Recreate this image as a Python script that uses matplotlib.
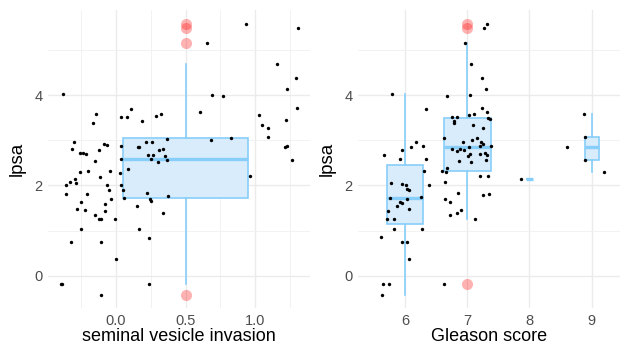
import matplotlib.pyplot as plt
import numpy as np

plt.rcParams['font.family'] = ['Liberation Sans', 'DejaVu Sans']

# left panel: jittered svi (0 / 1) against lpsa
svi0_x = [-0.379, -0.144, -0.168, 0.034, 0.082, 0.106, 0.189, 0.285, 0.321,
          -0.305, -0.317, -0.259, -0.237, -0.218, -0.122, -0.086, -0.067,
          -0.151, -0.257, -0.199, -0.113, -0.046, 0.036, 0.034, 0.029, 0.089,
          0.156, 0.163, 0.216, 0.259, 0.230, 0.264, 0.254, 0.302, 0.307, 0.341,
          0.350, 0.369, 0.367, -0.297, -0.331, -0.357, -0.290, -0.364, -0.254,
          -0.206, -0.062, -0.053, -0.038, -0.077, -0.278, -0.223, -0.149,
          -0.125, -0.108, -0.079, -0.007, 0.038, 0.053, 0.060, 0.149, 0.223,
          0.242, 0.249, 0.338, 0.374, -0.254, -0.324, -0.108, 0.163, 0.235,
          0.000, -0.400, -0.388, 0.237, -0.108]
svi0_y = [4.02, 3.57, 3.39, 3.51, 3.51, 3.68, 3.43, 3.53, 3.59,
          2.97, 2.81, 2.71, 2.71, 2.69, 2.78, 2.92, 2.89,
          2.54, 2.29, 2.32, 2.19, 2.31, 2.88, 2.59, 2.28, 2.37,
          2.84, 2.85, 2.96, 2.96, 2.68, 2.67, 2.59, 2.52, 2.79, 2.81,
          2.65, 3.03, 2.56, 2.15, 2.08, 2.00, 2.05, 1.80, 1.63,
          1.81, 2.01, 1.91, 1.69, 1.59, 1.48, 1.46, 1.34,
          1.26, 1.26, 1.44, 1.26, 2.00, 1.89, 1.72, 1.55, 1.84,
          1.70, 1.66, 1.40, 1.76, 1.04, 0.76, 0.76, 1.03, 0.84,
          0.37, -0.17, -0.17, -0.17, -0.43]
svi1_x = [0.935, 1.307, 0.657, 1.161, 1.293, 1.228, 0.693, 0.770, 1.300, 0.602,
          1.031, 1.225, 1.050, 1.091, 1.096, 0.827, 0.681, 1.218, 1.228, 1.266,
          0.964]
svi1_y = [5.58, 5.48, 5.14, 4.69, 4.38, 4.13, 3.99, 3.98, 3.71, 3.63,
          3.56, 3.45, 3.34, 3.28, 3.07, 3.05, 3.01, 2.86, 2.88, 2.56,
          2.21]

# right panel: jittered Gleason score against lpsa
gl6_x = [5.79, 6.34, 6.18, 6.10, 6.29, 5.96, 6.34, 5.66, 5.92, 6.31, 6.39, 5.77,
         5.96, 6.02, 6.04, 6.07, 6.25, 5.76, 6.04, 5.92, 5.96, 5.87, 6.07, 5.73,
         5.71, 5.82, 5.82, 6.27, 5.61, 5.96, 6.04, 6.07, 5.65, 5.74, 5.63]
gl6_y = [4.02, 3.68, 2.96, 2.84, 2.88, 2.78, 2.59, 2.67, 2.59, 2.32, 2.00, 2.05,
         2.03, 2.01, 1.92, 1.89, 1.75, 1.73, 1.69, 1.64, 1.61, 1.55, 1.48, 1.44,
         1.26, 1.26, 1.04, 1.04, 0.85, 0.76, 0.76, 0.37, -0.17, -0.17, -0.43]
gl7_x = [7.31, 7.27, 6.96, 7.06, 7.24, 7.30, 6.68, 7.04, 7.24, 7.32, 7.11, 7.03,
         6.76, 6.84, 6.78, 6.79, 7.34, 7.37, 7.09, 7.26, 6.62, 7.16, 7.07, 6.94,
         7.22, 7.25, 7.20, 7.39, 7.03, 6.75, 6.89, 6.95, 6.83, 7.04, 7.01, 7.20,
         7.29, 7.32, 6.87, 7.06, 7.30, 6.60, 6.67, 6.66, 7.21, 7.34, 6.65, 6.85,
         7.26, 7.35, 6.64, 6.73, 6.72, 6.84, 6.90, 7.12, 6.63]
gl7_y = [5.58, 5.48, 5.14, 4.69, 4.38, 4.13, 3.98, 3.99, 3.71, 3.62, 3.58, 3.56,
         3.51, 3.52, 3.43, 3.39, 3.49, 3.46, 3.33, 3.27, 3.04, 3.06, 3.01, 2.97,
         2.95, 2.91, 2.88, 2.88, 2.86, 2.81, 2.81, 2.78, 2.77, 2.70, 2.66, 2.70,
         2.71, 2.67, 2.55, 2.51, 2.56, 2.31, 2.38, 2.29, 2.22, 2.20, 2.08, 1.84,
         1.79, 1.81, 1.70, 1.64, 1.35, 1.40, 1.46, 1.26, -0.17]
gl8_x = [7.86]
gl8_y = [2.15]
gl9_x = [8.60, 8.88, 8.90, 8.90, 9.19]
gl9_y = [2.86, 3.57, 3.08, 2.56, 2.29]
gleason = [6, 7, 8, 9]

box_edge = '#87cefa'
box_fill = '#d9ecfb'

fig = plt.figure(figsize=(6.27, 3.48), dpi=100)
ax1 = fig.add_axes([48/627, 40/348, 262/627, 298/348])
ax2 = fig.add_axes([358/627, 40/348, 262/627, 298/348])


def box(ax, data, pos, widths):
    ax.boxplot(data, positions=pos, widths=widths, patch_artist=True,
               showcaps=False, manage_ticks=False,
               boxprops=dict(facecolor=box_fill, edgecolor=box_edge, linewidth=1.2),
               medianprops=dict(color=box_edge, linewidth=2.4),
               whiskerprops=dict(color=box_edge, linewidth=1.2),
               flierprops=dict(marker='o', markerfacecolor='red',
                               markeredgecolor='none', alpha=0.3, markersize=8),
               zorder=2)


# left
all_y = svi0_y + svi1_y
box(ax1, [all_y], [0.5], [0.9])
ax1.scatter(svi0_x + svi1_x, all_y, s=6, c='black', linewidths=0, zorder=3)
ax1.set_xlim(-0.49, 1.396)
ax1.set_xticks([0, 0.5, 1.0])
ax1.set_xticklabels(['0.0', '0.5', '1.0'])
ax1.set_xticks([-0.25, 0.25, 0.75, 1.25], minor=True)
ax1.set_xlabel('seminal vesicle invasion')

# right
groups = [gl6_y, gl7_y, gl8_y, gl9_y]
widths = [0.1 * np.sqrt(len(g)) for g in groups]
box(ax2, groups, gleason, widths)
ax2.scatter(gl6_x + gl7_x + gl8_x + gl9_x, gl6_y + gl7_y + gl8_y + gl9_y,
            s=6, c='black', linewidths=0, zorder=3)
ax2.set_xlim(5.245, 9.455)
ax2.set_xticks(gleason)
ax2.set_xticklabels([str(g) for g in gleason])
ax2.set_xlabel('Gleason score')

for ax in (ax1, ax2):
    ax.set_ylim(-0.71, 5.88)
    ax.set_yticks([0, 2, 4])
    ax.set_yticks([1, 3, 5], minor=True)
    ax.set_ylabel('lpsa', fontsize=13.5, labelpad=6)
    ax.xaxis.label.set_fontsize(13)
    ax.xaxis.labelpad = 0
    ax.grid(which='major', color='#ebebeb', linewidth=1.0)
    ax.grid(which='minor', color='#f0f0f0', linewidth=0.6)
    ax.set_axisbelow(True)
    for s in ax.spines.values():
        s.set_visible(False)
    ax.tick_params(which='both', length=0, labelsize=10.5, labelcolor='#4d4d4d', pad=4)

fig.savefig('out.png', dpi=100)
